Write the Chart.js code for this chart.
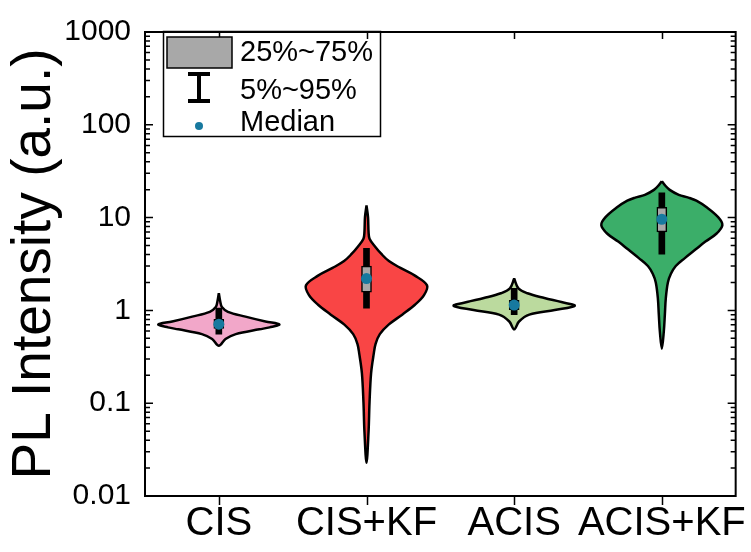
<!DOCTYPE html>
<html>
<head>
<meta charset="utf-8">
<script src="https://cdn.jsdelivr.net/npm/chart.js@4.4.1/dist/chart.umd.min.js"></script>
<style>
  html, body { margin: 0; padding: 0; background: #fff; }
  canvas { display: block; }
</style>
</head>
<body>
<canvas id="grafico" width="751" height="552"></canvas>
<script>
// Categorias e rótulos do eixo
const categorias = ['CIS', 'CIS+KF', 'ACIS', 'ACIS+KF'];
const ticksY = [0.01, 0.1, 1, 10, 100, 1000];

// Estatísticas de cada amostra
const mediana = [0.71, 2.2, 1.14, 9.6];
const p25 = [0.64, 1.57, 1.02, 7.0];
const p75 = [0.80, 3.0, 1.28, 12.9];
const p5 = [0.555, 1.06, 0.90, 4.03];
const p95 = [1.06, 4.66, 1.73, 18.5];

// Perfis de densidade dos violinos (intensidade -> largura relativa)
const cisNivel = [1.53, 1.23, 1.09, 0.966, 0.857, 0.759, 0.706, 0.656, 0.625, 0.555, 0.491, 0.415];
const cisDens = [0, 0.025, 0.05, 0.15, 0.44, 0.77, 1, 0.84, 0.67, 0.28, 0.11, 0];

const cisKfNivel = [13.5, 10.1, 7.03, 5.93, 4.89, 4.03, 3.40, 2.87, 2.37, 1.86, 1.46, 1.15, 0.90, 0.706, 0.555, 0.436, 0.342, 0.211, 0.102, 0.0493, 0.0228];
const cisKfDens = [0, 0.025, 0.034, 0.05, 0.14, 0.25, 0.37, 0.56, 0.8, 1, 0.95, 0.8, 0.59, 0.37, 0.22, 0.15, 0.12, 0.076, 0.05, 0.034, 0];

const acisNivel = [2.20, 1.73, 1.53, 1.36, 1.23, 1.12, 1.01, 0.90, 0.759, 0.625];
const acisDens = [0, 0.07, 0.22, 0.5, 0.78, 1, 0.67, 0.25, 0.08, 0];

const acisKfNivel = [24.7, 22.4, 19.9, 17.6, 16.4, 15.2, 12.9, 10.1, 8.32, 6.70, 5.52, 4.55, 3.66, 3.01, 2.48, 2.00, 1.36, 0.90, 0.596, 0.385];
const acisKfDens = [0, 0.05, 0.13, 0.28, 0.44, 0.57, 0.74, 0.93, 1, 0.9, 0.72, 0.56, 0.38, 0.23, 0.15, 0.1, 0.066, 0.05, 0.033, 0];

const niveis = [cisNivel, cisKfNivel, acisNivel, acisKfNivel];
const densidades = [cisDens, cisKfDens, acisDens, acisKfDens];

const cores = ['#F2A7C9', '#F94545', '#BBDA9E', '#3BAE69'];
const corMediana = '#17799F';
const larguraMax = 0.41;
const fonte = "'Liberation Sans', Arial, sans-serif";

// Contorno fechado: desce pelo lado direito e sobe pelo esquerdo
function contorno(i) {
  const x0 = i + 1;
  const dir = niveis[i].map((v, k) => ({ x: x0 + densidades[i][k] * larguraMax, y: v }));
  const esq = niveis[i].map((v, k) => ({ x: x0 - densidades[i][k] * larguraMax, y: v })).reverse().slice(1);
  return dir.concat(esq);
}

const datasets = [];
categorias.forEach((c, i) => {
  datasets.push({
    type: 'scatter',
    data: contorno(i),
    showLine: true,
    fill: 'shape',
    backgroundColor: cores[i],
    borderColor: '#000',
    borderWidth: 2.5,
    pointRadius: 0,
    tension: 0.35,
    order: 4
  });
});

// Barra 5%~95%
datasets.push({
  type: 'bar',
  data: categorias.map((c, i) => ({ x: i + 1, y: [p5[i], p95[i]] })),
  backgroundColor: '#000',
  barThickness: 6,
  grouped: false,
  order: 3
});

// Caixa 25%~75%
datasets.push({
  type: 'bar',
  data: categorias.map((c, i) => ({ x: i + 1, y: [p25[i], p75[i]] })),
  backgroundColor: '#A8A8A8',
  borderColor: '#000',
  borderWidth: 1.5,
  borderSkipped: false,
  barThickness: 10,
  grouped: false,
  order: 2
});

// Mediana
datasets.push({
  type: 'scatter',
  data: categorias.map((c, i) => ({ x: i + 1, y: mediana[i] })),
  backgroundColor: corMediana,
  borderWidth: 0,
  pointRadius: 5.5,
  order: 1
});

// Moldura, marcas dos eixos e legenda
const moldura = {
  id: 'moldura',
  afterDraw(chart) {
    const ctx = chart.ctx;
    const a = chart.chartArea;
    const sx = chart.scales.x;
    const sy = chart.scales.y;
    ctx.save();
    ctx.strokeStyle = '#000';
    ctx.lineWidth = 2;
    ctx.strokeRect(a.left, a.top, a.right - a.left, a.bottom - a.top);

    ctx.lineWidth = 1.5;
    ctx.beginPath();
    categorias.forEach((c, i) => {
      const px = Math.round(sx.getPixelForValue(i + 1)) + 0.5;
      ctx.moveTo(px, a.bottom); ctx.lineTo(px, a.bottom + 9);
      ctx.moveTo(px, a.top); ctx.lineTo(px, a.top + 7);
    });
    for (let d = -2; d <= 3; d++) {
      const py = sy.getPixelForValue(Math.pow(10, d));
      ctx.moveTo(a.left, py); ctx.lineTo(a.left + 8, py);
      ctx.moveTo(a.right, py); ctx.lineTo(a.right - 8, py);
      if (d === 3) continue;
      for (let k = 2; k <= 9; k++) {
        const pm = sy.getPixelForValue(k * Math.pow(10, d));
        ctx.moveTo(a.left, pm); ctx.lineTo(a.left + 5, pm);
        ctx.moveTo(a.right, pm); ctx.lineTo(a.right - 5, pm);
      }
    }
    ctx.stroke();

    // legenda
    ctx.lineWidth = 1.5;
    ctx.strokeRect(163.5, 31.5, 217, 105);
    ctx.fillStyle = '#A8A8A8';
    ctx.fillRect(167, 37, 65, 31);
    ctx.strokeRect(167, 37, 65, 31);

    ctx.lineWidth = 4;
    ctx.beginPath();
    ctx.moveTo(199, 74); ctx.lineTo(199, 101);
    ctx.moveTo(188, 74); ctx.lineTo(210, 74);
    ctx.moveTo(188, 101); ctx.lineTo(210, 101);
    ctx.stroke();

    ctx.fillStyle = corMediana;
    ctx.beginPath();
    ctx.arc(199, 126, 4, 0, Math.PI * 2);
    ctx.fill();

    ctx.fillStyle = '#000';
    ctx.font = '29px ' + fonte;
    ctx.textBaseline = 'middle';
    ctx.fillText('25%~75%', 240, 53);
    ctx.fillText('5%~95%', 240, 91);
    ctx.fillText('Median', 240, 123);
    ctx.restore();
  }
};

new Chart(document.getElementById('grafico'), {
  type: 'scatter',
  data: { datasets },
  plugins: [moldura],
  options: {
    responsive: false,
    animation: false,
    events: [],
    layout: { padding: { left: 0, top: 20, right: 10, bottom: 0 } },
    plugins: { legend: { display: false }, tooltip: { enabled: false } },
    scales: {
      x: {
        type: 'linear',
        min: 0.5,
        max: 4.5,
        offset: false,
        grid: { display: false, drawTicks: false },
        border: { display: false },
        afterBuildTicks: s => { s.ticks = categorias.map((c, i) => ({ value: i + 1 })); },
        afterFit: s => { s.height = 56; },
        ticks: {
          callback: v => categorias[v - 1],
          font: { family: fonte, size: 40 },
          color: '#000',
          padding: 4,
          maxRotation: 0,
          autoSkip: false
        }
      },
      y: {
        type: 'logarithmic',
        min: 0.01,
        max: 1000,
        grid: { display: false, drawTicks: false },
        border: { display: false },
        afterBuildTicks: s => { s.ticks = ticksY.map(v => ({ value: v })); },
        afterFit: s => { s.width = 145; },
        ticks: {
          callback: v => String(v),
          font: { family: fonte, size: 30 },
          color: '#000',
          padding: 14,
          autoSkip: false
        },
        title: {
          display: true,
          text: 'PL Intensity (a.u.)',
          font: { family: fonte, size: 55 },
          color: '#000',
          padding: { top: 2, bottom: 0 }
        }
      }
    }
  }
});
</script>
</body>
</html>
